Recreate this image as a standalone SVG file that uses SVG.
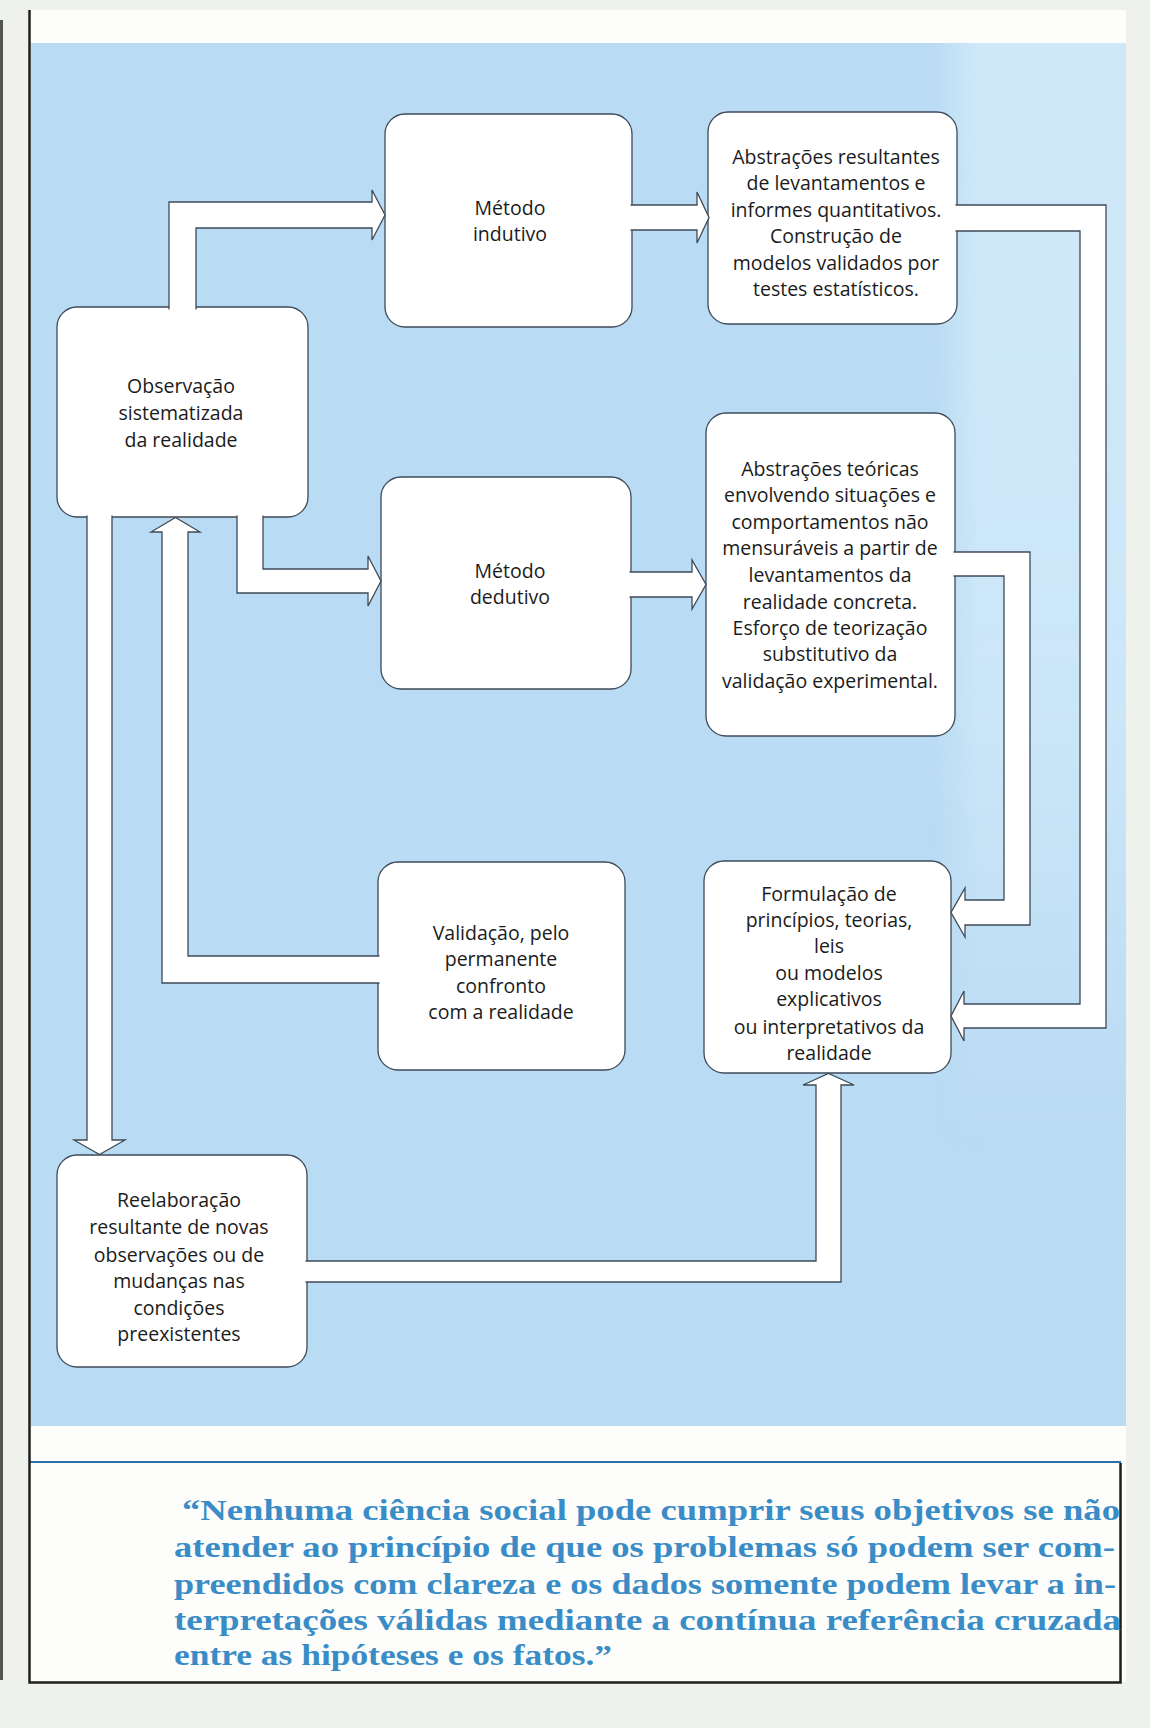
<svg xmlns="http://www.w3.org/2000/svg" width="1150" height="1728" viewBox="0 0 1150 1728">
<defs>
<style>
.box{fill:#ffffff;stroke:#3e4a58;stroke-width:1.3}
.arrow{fill:#ffffff;stroke:#3e4a58;stroke-width:1.3;stroke-linejoin:miter}
.t{font-family:"Open Sans","Liberation Sans",sans-serif;font-size:19.5px;fill:#1b1b1b;text-anchor:middle}
.q{font-family:"Liberation Serif","Times New Roman",serif;font-weight:bold;font-size:30px;fill:#3a8cc6}
.border{stroke:#1e1e1e;stroke-width:2.5;fill:none}
</style>
<linearGradient id="hfade" x1="0" y1="0" x2="1" y2="0">
<stop offset="0" stop-color="#cfe8f9" stop-opacity="0"/>
<stop offset="0.25" stop-color="#cfe8f9" stop-opacity="1"/>
<stop offset="1" stop-color="#cfe8f9" stop-opacity="1"/>
</linearGradient>
<linearGradient id="vfade" x1="0" y1="0" x2="0" y2="1">
<stop offset="0" stop-color="#ffffff" stop-opacity="1"/>
<stop offset="0.6" stop-color="#ffffff" stop-opacity="0.85"/>
<stop offset="1" stop-color="#ffffff" stop-opacity="0"/>
</linearGradient>
<mask id="colmask">
<rect x="930" y="43" width="196" height="1110" fill="url(#vfade)"/>
</mask>
</defs>

<!-- page background -->
<rect x="0" y="0" width="1150" height="1728" fill="#eff1ec"/>
<rect x="0" y="20" width="3" height="1660" fill="#555555"/>
<rect x="29" y="10" width="1097" height="1672" fill="#fdfdfb"/>
<rect x="31" y="43" width="1095" height="1383" fill="#b9dbf3"/>
<rect x="930" y="43" width="196" height="1110" fill="url(#hfade)" mask="url(#colmask)"/>
<line x1="30" y1="1462" x2="1121" y2="1462" stroke="#2f6fa8" stroke-width="2"/>
<path class="border" d="M29.5,10 V1682.5 H1120.5 V1463"/>

<!-- nodes -->
<g id="node-metodo-indutivo">
<rect class="box" x="385" y="114" width="247" height="213" rx="20"/>
<text class="t" x="510" y="215">Método</text>
<text class="t" x="510" y="241">indutivo</text>
</g>

<g id="node-abstracoes-resultantes">
<rect class="box" x="708" y="112" width="249" height="212" rx="20"/>
<text class="t" x="836" y="163.5">Abstrações resultantes</text>
<text class="t" x="836" y="190">de levantamentos e</text>
<text class="t" x="836" y="216.5">informes quantitativos.</text>
<text class="t" x="836" y="243">Construção de</text>
<text class="t" x="836" y="269.5">modelos validados por</text>
<text class="t" x="836" y="296">testes estatísticos.</text>
</g>

<g id="node-observacao">
<rect class="box" x="57" y="307" width="251" height="210" rx="20"/>
<text class="t" x="181" y="393">Observação</text>
<text class="t" x="181" y="420">sistematizada</text>
<text class="t" x="181" y="446.5">da realidade</text>
</g>

<g id="node-metodo-dedutivo">
<rect class="box" x="381" y="477" width="250" height="212" rx="20"/>
<text class="t" x="510" y="578">Método</text>
<text class="t" x="510" y="604">dedutivo</text>
</g>

<g id="node-abstracoes-teoricas">
<rect class="box" x="706" y="413" width="249" height="323" rx="20"/>
<text class="t" x="830" y="475.5">Abstrações teóricas</text>
<text class="t" x="830" y="502">envolvendo situações e</text>
<text class="t" x="830" y="528.5">comportamentos não</text>
<text class="t" x="830" y="555">mensuráveis a partir de</text>
<text class="t" x="830" y="582">levantamentos da</text>
<text class="t" x="830" y="608.5">realidade concreta.</text>
<text class="t" x="830" y="634.5">Esforço de teorização</text>
<text class="t" x="830" y="661">substitutivo da</text>
<text class="t" x="830" y="688">validação experimental.</text>
</g>

<g id="node-validacao">
<rect class="box" x="378" y="862" width="247" height="208" rx="20"/>
<text class="t" x="501" y="939.5">Validação, pelo</text>
<text class="t" x="501" y="966">permanente</text>
<text class="t" x="501" y="992.5">confronto</text>
<text class="t" x="501" y="1019">com a realidade</text>
</g>

<g id="node-formulacao">
<rect class="box" x="704" y="861" width="247" height="212" rx="20"/>
<text class="t" x="829" y="900.5">Formulação de</text>
<text class="t" x="829" y="926.5">princípios, teorias,</text>
<text class="t" x="829" y="953">leis</text>
<text class="t" x="829" y="980">ou modelos</text>
<text class="t" x="829" y="1006">explicativos</text>
<text class="t" x="829" y="1033.5">ou interpretativos da</text>
<text class="t" x="829" y="1060">realidade</text>
</g>

<g id="node-reelaboracao">
<rect class="box" x="57" y="1155" width="250" height="212" rx="20"/>
<text class="t" x="179" y="1207">Reelaboração</text>
<text class="t" x="179" y="1234">resultante de novas</text>
<text class="t" x="179" y="1261.5">observações ou de</text>
<text class="t" x="179" y="1288">mudanças nas</text>
<text class="t" x="179" y="1314.5">condições</text>
<text class="t" x="179" y="1341">preexistentes</text>
</g>

<!-- connectors -->
<g id="connectors">
<path class="arrow" d="M169,309.5 V202 H372 V190 L385,215 L372,240 V228 H196 V309.5"/>
<path class="arrow" d="M630.5,205 H697 V192 L709,217.5 L697,243 V230 H630.5"/>
<path class="arrow" d="M237,515.5 V593 H368 V606 L381,581 L368,556 V569 H263 V515.5"/>
<path class="arrow" d="M629.5,572 H692 V560 L706,584.5 L692,609 V597 H629.5"/>
<path class="arrow" d="M953.5,552 H1030 V925 H965 V937 L951,912.5 L965,888 V900 H1004 V576 H953.5"/>
<path class="arrow" d="M955.5,205 H1106 V1028 H964 V1041 L951,1016 L964,991 V1004 H1080 V231 H955.5"/>
<path class="arrow" d="M379.5,956 H188 V532 H200 L175.5,517.5 L151,532 H162 V983 H379.5"/>
<path class="arrow" d="M87,515.5 V1140 H74 L99.5,1154.5 L125,1140 H112 V515.5"/>
<path class="arrow" d="M305.5,1261 H816 V1085 H803 L828.5,1073.5 L854,1085 H841 V1282 H305.5"/>
</g>

<!-- quotation -->
<g id="quote">
<text class="q" x="182" y="1520" textLength="938" lengthAdjust="spacingAndGlyphs">“Nenhuma ciência social pode cumprir seus objetivos se não</text>
<text class="q" x="174" y="1557" textLength="941" lengthAdjust="spacingAndGlyphs">atender ao princípio de que os problemas só podem ser com-</text>
<text class="q" x="174" y="1594" textLength="942" lengthAdjust="spacingAndGlyphs">preendidos com clareza e os dados somente podem levar a in-</text>
<text class="q" x="174" y="1630" textLength="947" lengthAdjust="spacingAndGlyphs">terpretações válidas mediante a contínua referência cruzada</text>
<text class="q" x="174" y="1665" textLength="438" lengthAdjust="spacingAndGlyphs">entre as hipóteses e os fatos.”</text>
</g>
</svg>
